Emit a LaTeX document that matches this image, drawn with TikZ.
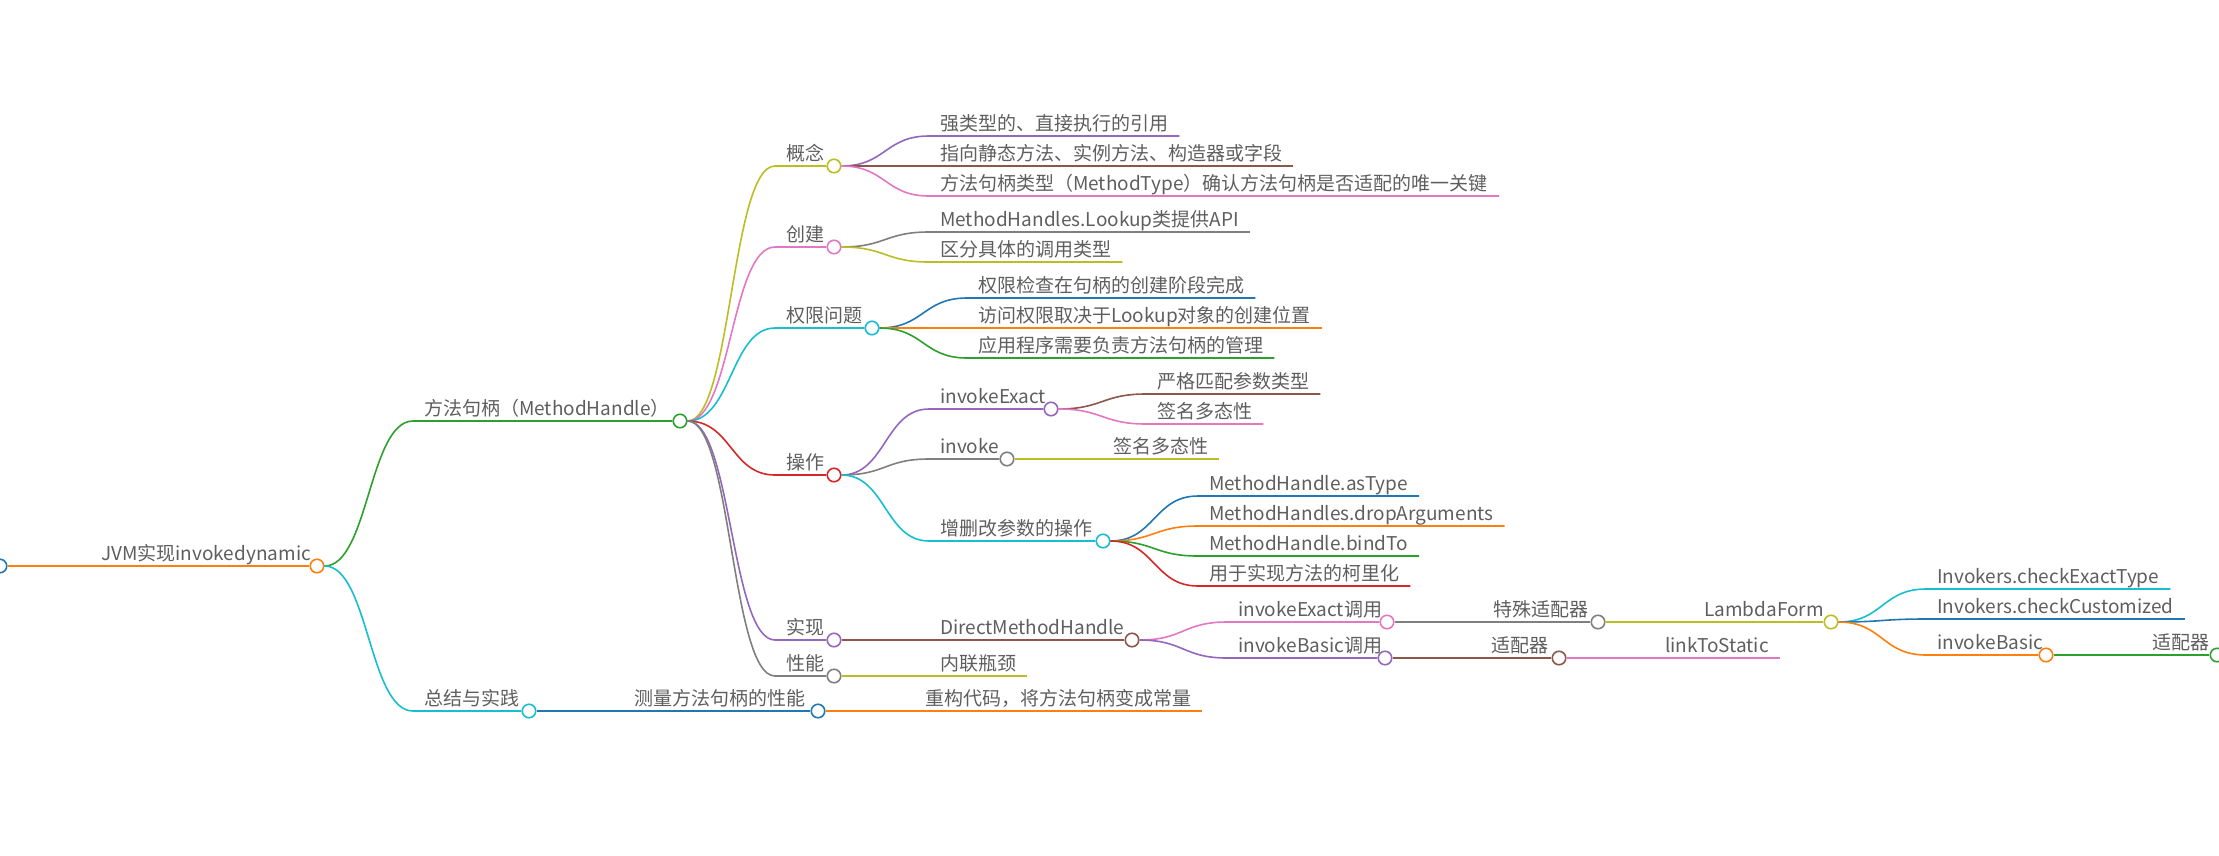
\documentclass[tikz,border=0pt]{standalone}
\usepackage{fontspec}
\setmainfont{Noto Sans CJK SC}
\usepackage{xcolor}
\definecolor{mBlue}  {HTML}{1F77B4}
\definecolor{mOrange}{HTML}{FF7F0E}
\definecolor{mGreen} {HTML}{2CA02C}
\definecolor{mRed}   {HTML}{D62728}
\definecolor{mPurple}{HTML}{9467BD}
\definecolor{mBrown} {HTML}{8C564B}
\definecolor{mPink}  {HTML}{E377C2}
\definecolor{mGray}  {HTML}{7F7F7F}
\definecolor{mOlive} {HTML}{BCBD22}
\definecolor{mCyan}  {HTML}{17BECF}
\definecolor{mText}  {HTML}{5E5E5E}
\usepackage{tikz}
\newcommand\mmfont{\fontsize{19}{23}\selectfont}
\tikzset{
  lbl/.style  = {anchor=south west, inner xsep=11pt, inner ysep=1pt,
                 text height=15pt, text depth=4pt,
                 font=\mmfont, text=mText},
  knob/.style = {circle, draw=#1, fill=white, line width=1.6pt,
                 minimum size=13.5pt, inner sep=0pt},
  lnk/.style  = {draw=#1, line width=1.6pt},
  crv/.style  = {to path={.. controls +(44,0) and +(-44,0) .. (\tikztotarget)}},
}

\begin{document}
\begin{tikzpicture}[x=1pt, y=-1pt]

  \useasboundingbox (0,0) rectangle (2219,855);

  %% --- root and first level ---
  \node[knob=mBlue]   (c_root) at (0,566) {};
  \node[lbl] (t_jvm) at (90,566)  {JVM实现invokedynamic};
  \node[knob=mOrange] (c_jvm)  at (317,566) {};
  \node[lbl] (t_mh)  at (413,421) {方法句柄（MethodHandle）};
  \node[knob=mGreen]  (c_mh)   at (680,421) {};
  \node[lbl] (t_sum) at (413,711) {总结与实践};
  \node[knob=mCyan]   (c_sum)  at (529,711) {};
  \node[lbl] (t_cl)  at (623,711) {测量方法句柄的性能};
  \node[knob=mBlue]   (c_cl)   at (818,711) {};
  \node[lbl] (t_cg)  at (914,711) {重构代码，将方法句柄变成常量};

  %% --- MethodHandle branches ---
  \node[lbl] (t_gn) at (775,166) {概念};
  \node[knob=mOlive]  (c_gn) at (834,166) {};
  \node[lbl] (t_cj) at (775,247) {创建};
  \node[knob=mPink]   (c_cj) at (834,247) {};
  \node[lbl] (t_qx) at (775,328) {权限问题};
  \node[knob=mCyan]   (c_qx) at (872,328) {};
  \node[lbl] (t_cz) at (775,475) {操作};
  \node[knob=mRed]    (c_cz) at (834,475) {};
  \node[lbl] (t_sx) at (775,640) {实现};
  \node[knob=mPurple] (c_sx) at (834,640) {};
  \node[lbl] (t_xn) at (775,676) {性能};
  \node[knob=mGray]   (c_xn) at (834,676) {};

  %% --- concept / creation / access ---
  \node[lbl] (t_gn1) at (929,136) {强类型的、直接执行的引用};
  \node[lbl] (t_gn2) at (929,166) {指向静态方法、实例方法、构造器或字段};
  \node[lbl] (t_gn3) at (929,196) {方法句柄类型（MethodType）确认方法句柄是否适配的唯一关键};
  \node[lbl] (t_cj1) at (929,232) {MethodHandles.Lookup类提供API};
  \node[lbl] (t_cj2) at (929,262) {区分具体的调用类型};
  \node[lbl] (t_qx1) at (967,298) {权限检查在句柄的创建阶段完成};
  \node[lbl] (t_qx2) at (967,328) {访问权限取决于Lookup对象的创建位置};
  \node[lbl] (t_qx3) at (967,358) {应用程序需要负责方法句柄的管理};

  %% --- operations ---
  \node[lbl] (t_ie)  at (929,409)  {invokeExact};
  \node[knob=mPurple] (c_ie) at (1051,409) {};
  \node[lbl] (t_iv)  at (929,459)  {invoke};
  \node[knob=mGray]   (c_iv) at (1007,459) {};
  \node[lbl] (t_zs)  at (929,541)  {增删改参数的操作};
  \node[knob=mCyan]   (c_zs) at (1103,541) {};
  \node[lbl] (t_ie1) at (1146,394) {严格匹配参数类型};
  \node[lbl] (t_ie2) at (1146,424) {签名多态性};
  \node[lbl] (t_iv1) at (1102,459) {签名多态性};
  \node[lbl] (t_zs1) at (1198,496) {MethodHandle.asType};
  \node[lbl] (t_zs2) at (1198,526) {MethodHandles.dropArguments};
  \node[lbl] (t_zs3) at (1198,556) {MethodHandle.bindTo};
  \node[lbl] (t_zs4) at (1198,586) {用于实现方法的柯里化};

  %% --- implementation / performance ---
  \node[lbl] (t_dm)  at (929,640)  {DirectMethodHandle};
  \node[knob=mBrown]  (c_dm)  at (1132,640) {};
  \node[lbl] (t_ec)  at (1227,622) {invokeExact调用};
  \node[knob=mPink]   (c_ec)  at (1387,622) {};
  \node[lbl] (t_bc)  at (1227,658) {invokeBasic调用};
  \node[knob=mPurple] (c_bc)  at (1385,658) {};
  \node[lbl] (t_ts)  at (1482,622) {特殊适配器};
  \node[knob=mGray]   (c_ts)  at (1598,622) {};
  \node[lbl] (t_sp)  at (1480,658) {适配器};
  \node[knob=mBrown]  (c_sp)  at (1559,658) {};
  \node[lbl] (t_lf)  at (1693,622) {LambdaForm};
  \node[knob=mOlive]  (c_lf)  at (1831,622) {};
  \node[lbl] (t_lts) at (1654,658) {linkToStatic};
  \node[lbl] (t_lf1) at (1926,589) {Invokers.checkExactType};
  \node[lbl] (t_lf2) at (1926,619) {Invokers.checkCustomized};
  \node[lbl] (t_ib)  at (1926,655) {invokeBasic};
  \node[knob=mOrange] (c_ib)  at (2046,655) {};
  \node[lbl] (t_sp2) at (2141,655) {适配器};
  \node[knob=mGreen]  (c_sp2) at (2217,655) {};
  \node[lbl] (t_xn1) at (929,676)  {内联瓶颈};

  %% --- Links ---
  \draw[lnk=mOrange] (c_root.east) -- (t_jvm.south west) -- (c_jvm.west);
  \draw[lnk=mGreen]  (c_jvm.east) to[crv] (t_mh.south west)  -- (c_mh.west);
  \draw[lnk=mCyan]   (c_jvm.east) to[crv] (t_sum.south west) -- (c_sum.west);
  \draw[lnk=mBlue]   (c_sum.east) to[crv] (t_cl.south west)  -- (c_cl.west);
  \draw[lnk=mOrange] (c_cl.east)  to[crv] (t_cg.south west)  -- (t_cg.south east);

  \draw[lnk=mOlive]  (c_mh.east) to[crv] (t_gn.south west) -- (c_gn.west);
  \draw[lnk=mPink]   (c_mh.east) to[crv] (t_cj.south west) -- (c_cj.west);
  \draw[lnk=mCyan]   (c_mh.east) to[crv] (t_qx.south west) -- (c_qx.west);
  \draw[lnk=mRed]    (c_mh.east) to[crv] (t_cz.south west) -- (c_cz.west);
  \draw[lnk=mPurple] (c_mh.east) to[crv] (t_sx.south west) -- (c_sx.west);
  \draw[lnk=mGray]   (c_mh.east) to[crv] (t_xn.south west) -- (c_xn.west);

  \draw[lnk=mPurple] (c_gn.east) to[crv] (t_gn1.south west) -- (t_gn1.south east);
  \draw[lnk=mBrown]  (c_gn.east) to[crv] (t_gn2.south west) -- (t_gn2.south east);
  \draw[lnk=mPink]   (c_gn.east) to[crv] (t_gn3.south west) -- (t_gn3.south east);
  \draw[lnk=mGray]   (c_cj.east) to[crv] (t_cj1.south west) -- (t_cj1.south east);
  \draw[lnk=mOlive]  (c_cj.east) to[crv] (t_cj2.south west) -- (t_cj2.south east);
  \draw[lnk=mBlue]   (c_qx.east) to[crv] (t_qx1.south west) -- (t_qx1.south east);
  \draw[lnk=mOrange] (c_qx.east) to[crv] (t_qx2.south west) -- (t_qx2.south east);
  \draw[lnk=mGreen]  (c_qx.east) to[crv] (t_qx3.south west) -- (t_qx3.south east);

  \draw[lnk=mPurple] (c_cz.east) to[crv] (t_ie.south west) -- (c_ie.west);
  \draw[lnk=mGray]   (c_cz.east) to[crv] (t_iv.south west) -- (c_iv.west);
  \draw[lnk=mCyan]   (c_cz.east) to[crv] (t_zs.south west) -- (c_zs.west);
  \draw[lnk=mBrown]  (c_ie.east) to[crv] (t_ie1.south west) -- (t_ie1.south east);
  \draw[lnk=mPink]   (c_ie.east) to[crv] (t_ie2.south west) -- (t_ie2.south east);
  \draw[lnk=mOlive]  (c_iv.east) to[crv] (t_iv1.south west) -- (t_iv1.south east);
  \draw[lnk=mBlue]   (c_zs.east) to[crv] (t_zs1.south west) -- (t_zs1.south east);
  \draw[lnk=mOrange] (c_zs.east) to[crv] (t_zs2.south west) -- (t_zs2.south east);
  \draw[lnk=mGreen]  (c_zs.east) to[crv] (t_zs3.south west) -- (t_zs3.south east);
  \draw[lnk=mRed]    (c_zs.east) to[crv] (t_zs4.south west) -- (t_zs4.south east);

  \draw[lnk=mBrown]  (c_sx.east) to[crv] (t_dm.south west)  -- (c_dm.west);
  \draw[lnk=mPink]   (c_dm.east) to[crv] (t_ec.south west)  -- (c_ec.west);
  \draw[lnk=mPurple] (c_dm.east) to[crv] (t_bc.south west)  -- (c_bc.west);
  \draw[lnk=mGray]   (c_ec.east) to[crv] (t_ts.south west)  -- (c_ts.west);
  \draw[lnk=mBrown]  (c_bc.east) to[crv] (t_sp.south west)  -- (c_sp.west);
  \draw[lnk=mOlive]  (c_ts.east) to[crv] (t_lf.south west)  -- (c_lf.west);
  \draw[lnk=mPink]   (c_sp.east) to[crv] (t_lts.south west) -- (t_lts.south east);
  \draw[lnk=mCyan]   (c_lf.east) to[crv] (t_lf1.south west) -- (t_lf1.south east);
  \draw[lnk=mBlue]   (c_lf.east) to[crv] (t_lf2.south west) -- (t_lf2.south east);
  \draw[lnk=mOrange] (c_lf.east) to[crv] (t_ib.south west)  -- (c_ib.west);
  \draw[lnk=mGreen]  (c_ib.east) to[crv] (t_sp2.south west) -- (c_sp2.west);
  \draw[lnk=mOlive]  (c_xn.east) to[crv] (t_xn1.south west) -- (t_xn1.south east);

\end{tikzpicture}
\end{document}
